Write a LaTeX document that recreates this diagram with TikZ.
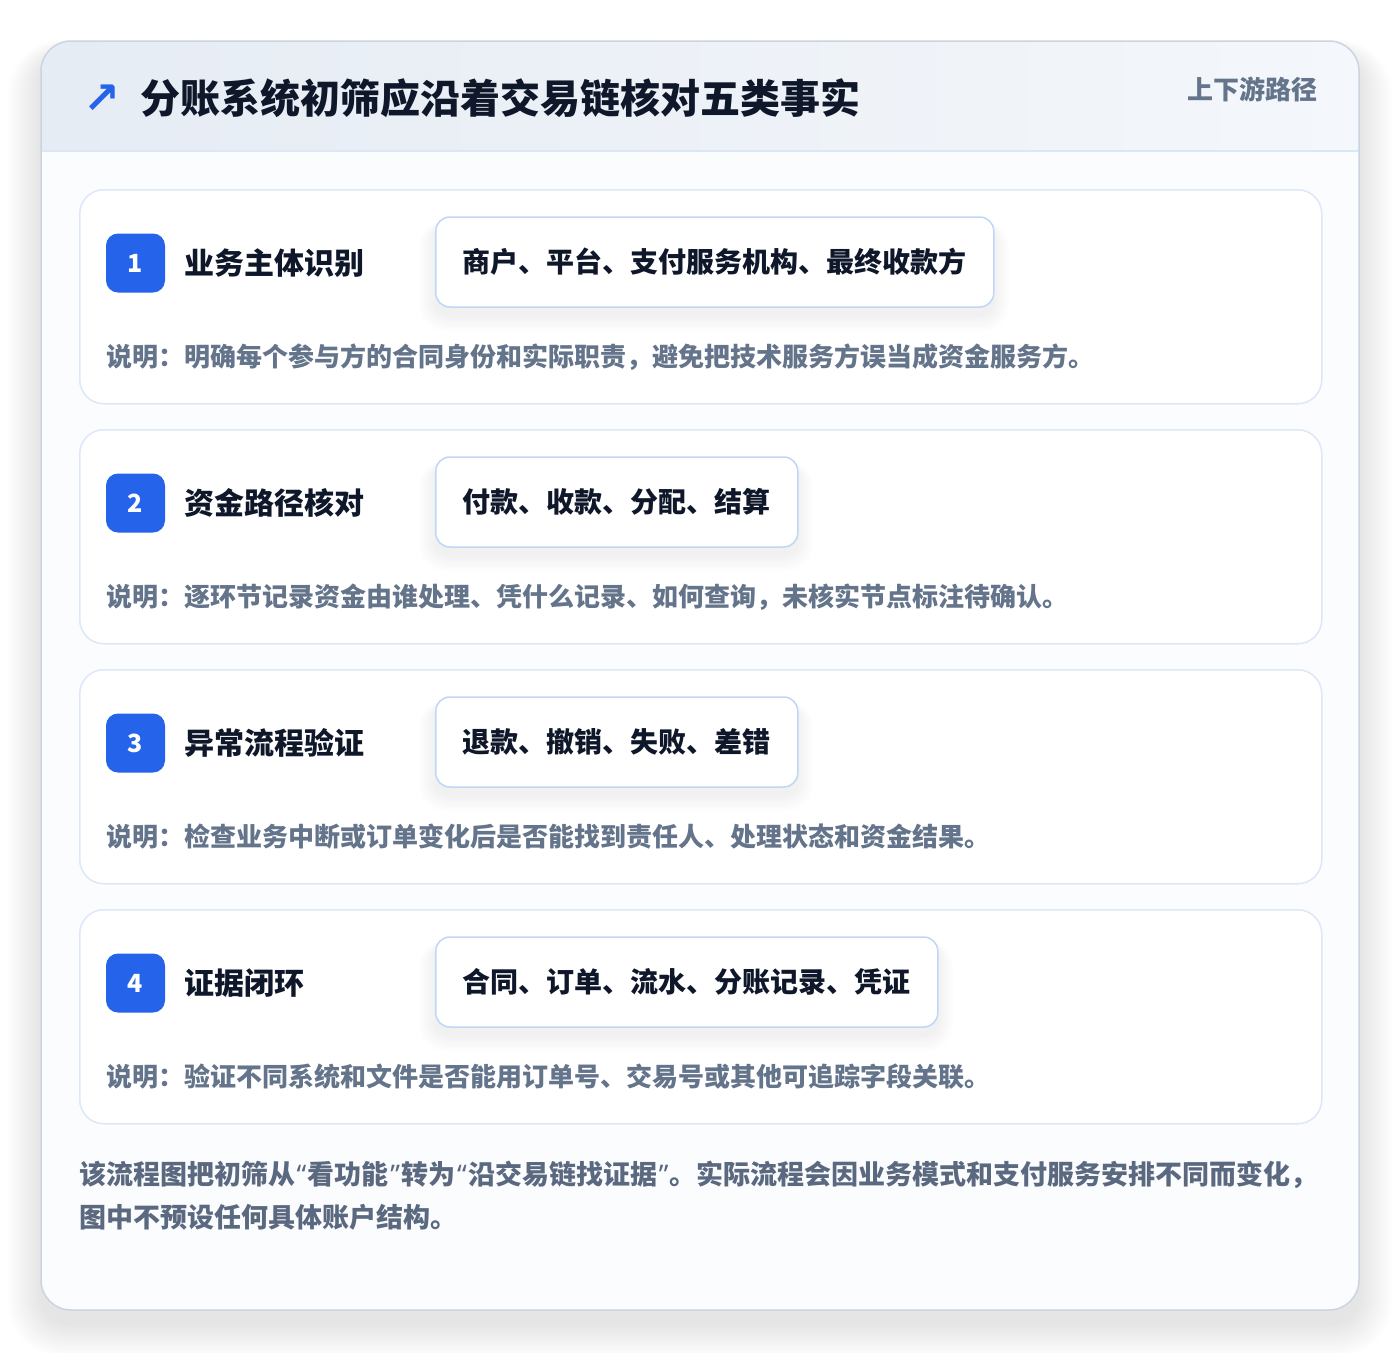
\documentclass[tikz,border=0pt]{standalone}
\usepackage{fontspec}
\setmainfont{Noto Sans CJK SC}
\newfontfamily\symfont{DejaVu Sans}
\newfontfamily\latinfont{Noto Sans}
\definecolor{cardline}{HTML}{CBD5E1}
\definecolor{cardfill}{HTML}{FBFCFE}
\definecolor{headL}{HTML}{E6ECF4}
\definecolor{headR}{HTML}{F4F7FB}
\definecolor{headline}{HTML}{DCE7F6}
\definecolor{itemline}{HTML}{DCE8F8}
\definecolor{tagline}{HTML}{BFD6F6}
\definecolor{badgeblue}{HTML}{2563EB}
\definecolor{ink}{HTML}{0F172A}
\definecolor{muted}{HTML}{64748B}
\definecolor{footink}{HTML}{5B6980}
\newcommand{\myopenq}{{\latinfont\kern1.5pt“\kern1.5pt}}
\newcommand{\myclosq}{{\latinfont\kern1.5pt”\kern1.5pt}}
\tikzset{
  itemcard/.style={draw=itemline, line width=1.5pt, fill=white, rounded corners=24pt,
    minimum width=1242pt, minimum height=214pt, anchor=north west, inner sep=0pt},
  badge/.style={fill=badgeblue, rounded corners=12pt, minimum size=59pt, inner sep=0pt,
    text=white, font=\bfseries\fontsize{25}{28}\selectfont},
  itemtitle/.style={anchor=west, inner sep=0pt, text=ink, font=\bfseries\fontsize{30}{36}\selectfont},
  tagbox/.style={draw=tagline, line width=1.5pt, fill=white, rounded corners=14pt,
    minimum height=90pt, inner xsep=27pt, inner ysep=0pt, anchor=west, text=ink,
    font=\bfseries\fontsize{28}{34}\selectfont},
  desc/.style={anchor=west, inner sep=0pt, text=muted, font=\bfseries\fontsize{26}{30}\selectfont},
  foot/.style={anchor=west, inner sep=0pt, text=footink, font=\bfseries\fontsize{27}{30}\selectfont},
  shadowlayer/.style={fill=black, opacity=#1},
}
\begin{document}
\begin{tikzpicture}[x=1pt,y=-1pt]
\useasboundingbox (0,0) rectangle (1400,1352);
\fill[white] (0,0) rectangle (1400,1352);
% outer card shadow
\foreach \k in {1,...,26}{
  \fill[shadowlayer=0.003, rounded corners=30pt+\k*1pt]
    (41-\k*1.3,41-\k*0.6+14) rectangle (1359+\k*1.3,1310+\k*1.3+14);
}
% outer card
\path[fill=cardfill, rounded corners=30pt] (41,41) rectangle (1359,1310);
% header band
\shade[left color=headL, right color=headR]
  (41,151) [rounded corners=30pt]-- (41,41) -- (1359,41) [sharp corners]-- (1359,151) -- cycle;
\draw[headline, line width=1.5pt] (41,151) -- (1359,151);
\draw[cardline, line width=1.5pt, rounded corners=30pt] (41,41) rectangle (1359,1310);
% header texts
\node[text=badgeblue, inner sep=0pt, font=\symfont\bfseries\fontsize{44}{46}\selectfont] (icon) at (102,99) {↗};
\node[anchor=west, inner sep=0pt, text=ink, font=\bfseries\fontsize{40}{48}\selectfont] (title) at (140,98)
  {分账系统初筛应沿着交易链核对五类事实};
\node[anchor=east, inner sep=0pt, text=muted, font=\bfseries\fontsize{26}{30}\selectfont] (tagline) at (1318,89)
  {上下游路径};
% items
\foreach \i/\num/\ttl/\tg/\tw/\ds in {
  0/1/业务主体识别/商户、平台、支付服务机构、最终收款方/558/说明：明确每个参与方的合同身份和实际职责，避免把技术服务方误当成资金服务方。,
  1/2/资金路径核对/付款、收款、分配、结算/362/说明：逐环节记录资金由谁处理、凭什么记录、如何查询，未核实节点标注待确认。,
  2/3/异常流程验证/退款、撤销、失败、差错/362/说明：检查业务中断或订单变化后是否能找到责任人、处理状态和资金结果。,
  3/4/证据闭环/合同、订单、流水、分账记录、凭证/502/说明：验证不同系统和文件是否能用订单号、交易号或其他可追踪字段关联。}{
  \pgfmathsetmacro{\top}{189+240*\i}
  \node[itemcard] (card\num) at (79,\top) {};
  \foreach \k in {1,...,14}{
    \fill[shadowlayer=0.0045, rounded corners=14pt+\k*1pt]
      (435-\k*1.2,\top+28-\k*0.3+8) rectangle (435+\tw+\k*1.2,\top+118+\k*1.2+8);
  }
  \node[badge] (badge\num) at (135.5,\top+74) {\num};
  \node[itemtitle] (ttl\num) at (184,\top+74) {\ttl};
  \node[tagbox] (tag\num) at (435,\top+73) {\tg};
  \node[desc] (desc\num) at (106,\top+168) {\ds};
}
% footer
\node[foot] (foot1) at (79,1175) {该流程图把初筛从\myopenq 看功能\myclosq 转为\myopenq 沿交易链找证据\myclosq 。实际流程会因业务模式和支付服务安排不同而变化，};
\node[foot] (foot2) at (79,1217) {图中不预设任何具体账户结构。};
\end{tikzpicture}
\end{document}
